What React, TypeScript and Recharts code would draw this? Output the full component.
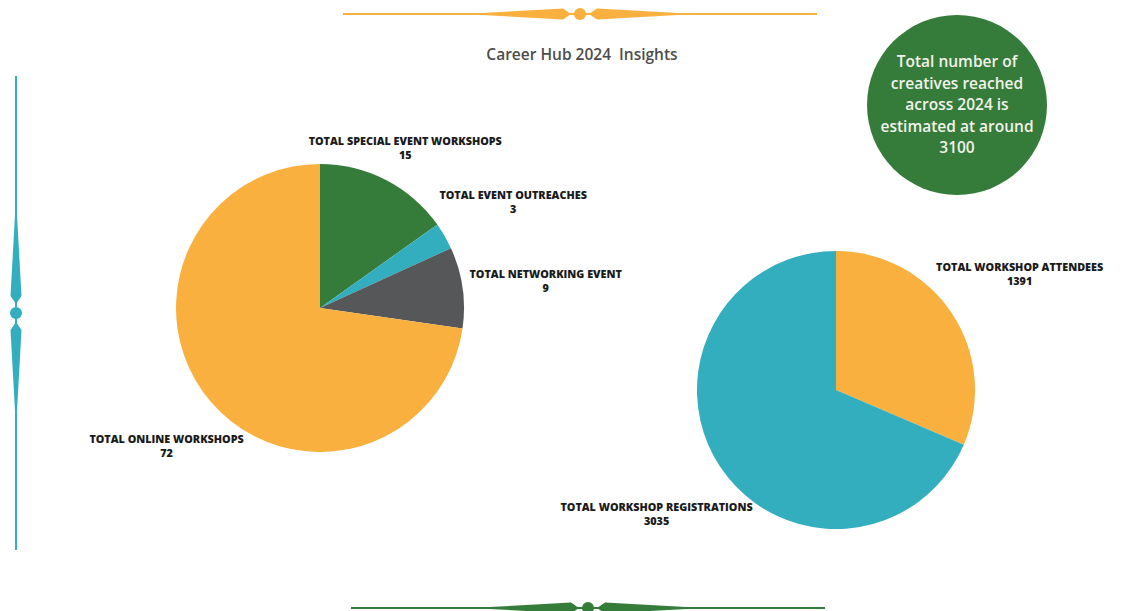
import { PieChart, Pie, Cell } from "recharts";

const eventCategories = [
  "TOTAL SPECIAL EVENT WORKSHOPS",
  "TOTAL EVENT OUTREACHES",
  "TOTAL NETWORKING EVENT",
  "TOTAL ONLINE WORKSHOPS",
];
const eventCounts = [15, 3, 9, 72];

const workshopCategories = ["TOTAL WORKSHOP ATTENDEES", "TOTAL WORKSHOP REGISTRATIONS"];
const workshopCounts = [1391, 3035];

const titleText = "Career Hub 2024  Insights";
const calloutLines = [
  "Total number of",
  "creatives reached",
  "across 2024 is",
  "estimated at around",
  "3100",
];

const GREEN = "#357c3a";
const TEAL = "#33aebf";
const ORANGE = "#f9b03f";
const GRAY = "#555759";

const eventColors = [GREEN, TEAL, GRAY, ORANGE];
const workshopColors = [ORANGE, TEAL];

// distance of each label from the pie centre, along the slice's mid angle
const eventLabelRadius = [186, 223, 228, 203];
const workshopLabelRadius = [220, 215];

const eventData = eventCategories.map((name, i) => ({ name, value: eventCounts[i] }));
const workshopData = workshopCategories.map((name, i) => ({ name, value: workshopCounts[i] }));

const FONT = "'Open Sans', 'Liberation Sans', sans-serif";
const RAD = Math.PI / 180;

function makeLabel(radii: number[]) {
  return (props: any) => {
    const { cx, cy, midAngle, index, name, value } = props;
    const r = radii[index];
    const x = cx + r * Math.cos(-midAngle * RAD);
    const y = cy + r * Math.sin(-midAngle * RAD);
    return (
      <text
        x={x}
        y={y}
        textAnchor="middle"
        fontFamily={FONT}
        fontSize={10.8}
        fontWeight={800}
        fill="#1b1b1b"
      >
        <tspan x={x} dy="0.2em">{name}</tspan>
        <tspan x={x} dy={14}>{value}</tspan>
      </text>
    );
  };
}

function Ornament({ color, x, y, vertical }: { color: string; x: number; y: number; vertical?: boolean }) {
  // drawn horizontally around (0,0), then rotated if vertical
  const t = vertical ? `translate(${x},${y}) rotate(90)` : `translate(${x},${y})`;
  return (
    <g transform={t} fill={color}>
      <rect x={-237} y={-1} width={474} height={2} />
      <path d="M -98 -1 L -17 -5.5 L -9 0 L -17 5.5 L -98 1 Z" />
      <path d="M 98 -1 L 17 -5.5 L 9 0 L 17 5.5 L 98 1 Z" />
      <circle cx={0} cy={0} r={6} />
    </g>
  );
}

export default function App() {
  return (
    <div style={{ position: "absolute", left: 0, top: 0, width: 1133, height: 611, background: "#fff", overflow: "hidden" }}>
      <svg width={1133} height={611} style={{ position: "absolute", left: 0, top: 0 }}>
        <Ornament color={ORANGE} x={580} y={14} />
        <Ornament color={TEAL} x={16} y={313} vertical />
        <Ornament color={GREEN} x={588} y={608} />
      </svg>

      <div
        style={{
          position: "absolute",
          left: 382,
          top: 43,
          width: 400,
          textAlign: "center",
          fontFamily: FONT,
          fontSize: 15.5,
          fontWeight: 600,
          color: "#4d4d4d",
          whiteSpace: "pre",
        }}
      >
        {titleText}
      </div>

      <div style={{ position: "absolute", left: 0, top: 0 }}>
        <PieChart width={1133} height={611} margin={{ top: 0, right: 0, bottom: 0, left: 0 }}>
          <Pie
            data={eventData}
            dataKey="value"
            nameKey="name"
            cx={320}
            cy={308}
            outerRadius={144}
            startAngle={90}
            endAngle={-270}
            stroke="none"
            labelLine={false}
            label={makeLabel(eventLabelRadius)}
            isAnimationActive={false}
          >
            {eventData.map((d, i) => (
              <Cell key={d.name} fill={eventColors[i]} />
            ))}
          </Pie>
          <Pie
            data={workshopData}
            dataKey="value"
            nameKey="name"
            cx={836}
            cy={390}
            outerRadius={139}
            startAngle={90}
            endAngle={-270}
            stroke="none"
            labelLine={false}
            label={makeLabel(workshopLabelRadius)}
            isAnimationActive={false}
          >
            {workshopData.map((d, i) => (
              <Cell key={d.name} fill={workshopColors[i]} />
            ))}
          </Pie>
        </PieChart>
      </div>

      <div
        style={{
          position: "absolute",
          left: 867,
          top: 15,
          width: 180,
          height: 180,
          borderRadius: "50%",
          background: GREEN,
          display: "flex",
          flexDirection: "column",
          alignItems: "center",
          justifyContent: "center",
          fontFamily: FONT,
          fontSize: 15.5,
          fontWeight: 600,
          lineHeight: "21.5px",
          color: "#f2f2ea",
          textAlign: "center",
        }}
      >
        {calloutLines.map((l) => (
          <div key={l}>{l}</div>
        ))}
      </div>
    </div>
  );
}
